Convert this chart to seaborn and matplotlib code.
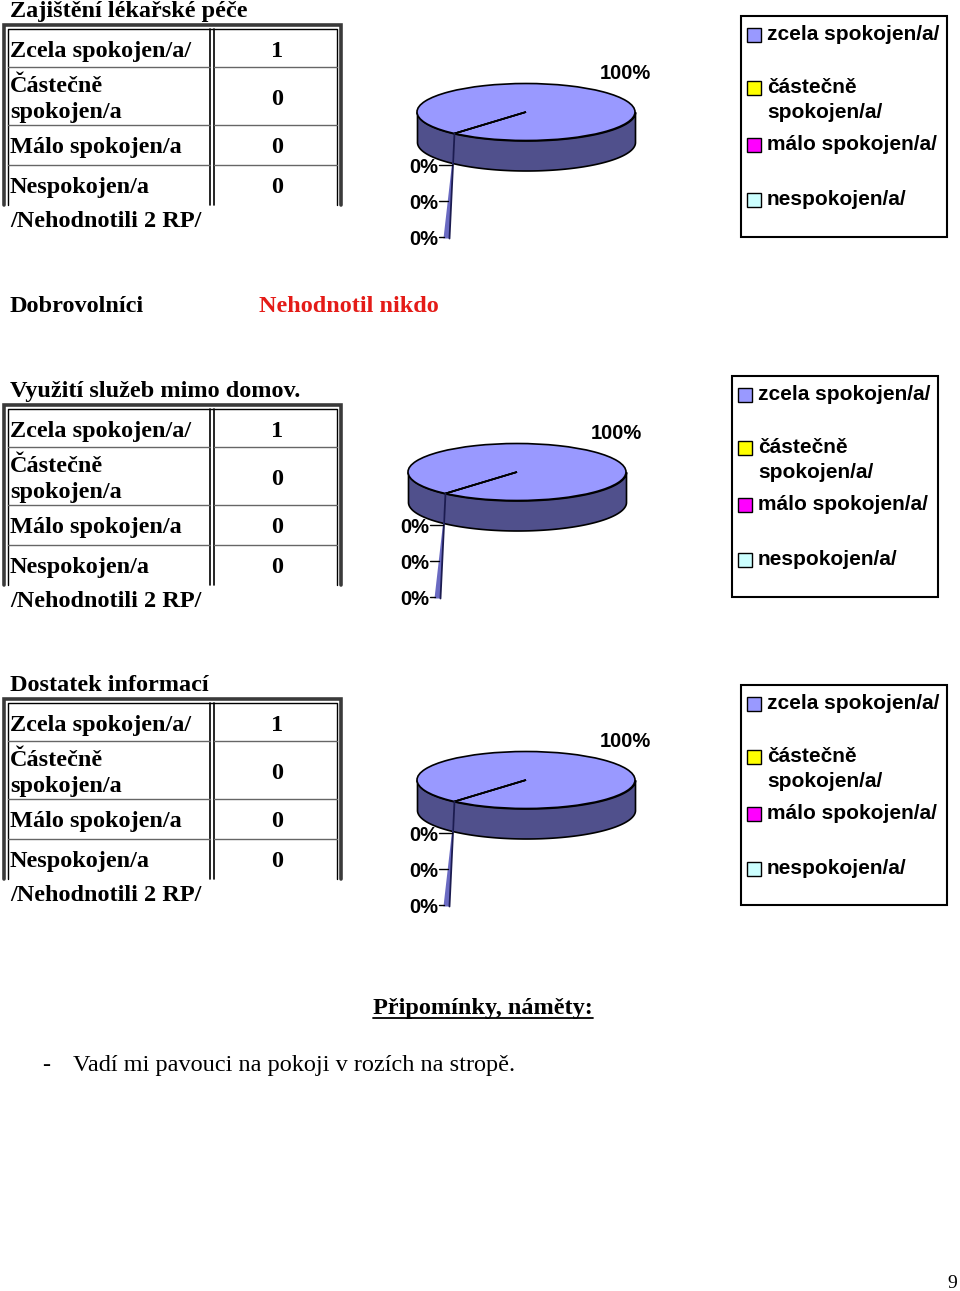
import numpy as np
import matplotlib.pyplot as plt
import seaborn as sns
from matplotlib.patches import Rectangle, Polygon


W, H = 960, 1291
SERIF = "Liberation Serif"
SANS = "Liberation Sans"

TOP_COLOR = "#9999FF"
SIDE_COLOR = "#50508C"
SLIVER_COLOR = "#6A6AC2"
RED = "#E41B17"

# data
section_titles = ["Zajištění lékařské péče", "Využití služeb mimo domov.", "Dostatek informací"]
row_labels = ["Zcela spokojen/a/", "Částečně\nspokojen/a", "Málo spokojen/a", "Nespokojen/a"]
legend_labels = ["zcela spokojen/a/", "částečně\nspokojen/a/", "málo spokojen/a/", "nespokojen/a/"]
legend_colors = [TOP_COLOR, "#FFFF00", "#FF00FF", "#CCFFFF"]
pece_counts = [1, 0, 0, 0]
sluzby_counts = [1, 0, 0, 0]
informace_counts = [1, 0, 0, 0]
not_rated_note = "/Nehodnotili 2 RP/"
volunteers_label = "Dobrovolníci"
volunteers_note = "Nehodnotil nikdo"
comments_title = "Připomínky, náměty:"
comments = ["Vadí mi pavouci na pokoji v rozích na stropě."]
page_number = "9"

# layout (pixels)
table_tops = [24, 404, 698]
pie_centers = [(526, 112), (517, 472), (526, 780)]
legend_boxes = [(741, 16, 947, 237), (732, 376, 938, 597), (741, 685, 947, 905)]

sns.set_theme(style="white")
plt.rcParams["font.family"] = [SERIF, "DejaVu Serif"]
plt.rcParams["text.color"] = "black"

fig = plt.figure(figsize=(W / 100, H / 100), dpi=100)
ax = fig.add_axes([0, 0, 1, 1])
ax.set_xlim(0, W)
ax.set_ylim(H, 0)
ax.axis("off")


def draw_table(top, counts, title):
    bottom = top + 181
    ax.text(10, top - 7, title, fontfamily=SERIF, fontweight="bold", fontsize=17.5, va="baseline")
    # double frame, the bottom edge is cut by the page
    ax.plot([4, 4, 341, 341], [bottom, top + 1, top + 1, bottom], color="#3a3a3a", lw=2.6,
            solid_joinstyle="miter")
    ax.plot([8, 8, 337, 337], [bottom, top + 5, top + 5, bottom], color="black", lw=1)
    ax.plot([210, 210], [top + 5, bottom], color="black", lw=1.2)
    ax.plot([214, 214], [top + 5, bottom], color="black", lw=1.2)
    for b in [43, 101, 141]:
        ax.plot([8, 210], [top + b, top + b], color="#666666", lw=1)
        ax.plot([214, 337], [top + b, top + b], color="#666666", lw=1)

    baselines = [33, 68, 129, 169]
    value_baselines = [33, 81, 129, 169]
    for label, value, b, vb in zip(row_labels, counts, baselines, value_baselines):
        for k, line in enumerate(label.split("\n")):
            ax.text(10, top + b + 26 * k, line, fontfamily=SERIF, fontweight="bold",
                    fontsize=17.5, va="baseline")
        ax.text(277, top + vb, str(value), fontfamily=SERIF, fontweight="bold",
                fontsize=17.5, ha="center", va="baseline")
    ax.text(10, top + 203, not_rated_note, fontfamily=SERIF, fontweight="bold",
            fontsize=17.5, va="baseline")


def draw_pie(counts, cx, cy, rx=109, ry=28.5, depth=30, start=229):
    left, right, top, bottom = cx - 135, cx + 135, cy - 60, cy + 145
    pax = fig.add_axes([left / W, 1 - bottom / H, (right - left) / W, (bottom - top) / H])

    def to_data(px, py):
        return (px - cx) / rx, (cy - py) / ry

    pax.pie(counts, colors=legend_colors, startangle=start, counterclock=True,
            wedgeprops=dict(edgecolor="black", linewidth=1.2))
    # cylinder side
    t = np.linspace(np.pi, 2 * np.pi, 200)
    xs, ys = np.cos(t), np.sin(t)
    pax.fill_between(xs, ys - depth / ry, ys, facecolor=SIDE_COLOR, edgecolor="black",
                     lw=1.2, zorder=0)

    # zero slices dropped below the rim
    rim_x = cx + rx * np.cos(np.radians(start))
    rim_y = cy - ry * np.sin(np.radians(start))
    sliver = [(rim_x, rim_y), (rim_x - 5, rim_y + 105), (rim_x - 11, rim_y + 105), (rim_x - 2, rim_y + 26)]
    pax.add_patch(Polygon([to_data(*p) for p in sliver], closed=True, fc=SLIVER_COLOR, ec="none", zorder=3))
    (x0, y0), (x1, y1) = to_data(*sliver[0]), to_data(*sliver[1])
    pax.plot([x0, x1], [y0, y1], color="#1c1c50", lw=1.3, zorder=4)

    total = sum(counts)
    zero_row = 0
    for v in counts:
        pct = f"{round(100 * v / total)}%"
        if v > 0:
            pax.text(*to_data(cx + 74, cy - 33), pct, fontfamily=SANS, fontweight="bold",
                     fontsize=14.5, va="baseline")
        else:
            by = cy + 61 + 36 * zero_row
            pax.text(*to_data(cx - 117, by), pct, fontfamily=SANS, fontweight="bold",
                     fontsize=14.5, va="baseline")
            ly = by - 8
            ex = rim_x - 2 - 9 * (ly - rim_y - 26) / 79
            (lx0, lyd), (lx1, _) = to_data(cx - 87, ly), to_data(ex, ly)
            pax.plot([lx0, lx1], [lyd, lyd], color="black", lw=1, zorder=5)
            zero_row += 1

    pax.set_aspect("auto")
    pax.set_xlim((left - cx) / rx, (right - cx) / rx)
    pax.set_ylim((cy - bottom) / ry, (cy - top) / ry)
    pax.axis("off")


def draw_legend(x0, y0, x1, y1):
    ax.add_patch(Rectangle((x0, y0), x1 - x0, y1 - y0, fill=False, ec="black", lw=1.5))
    baselines = [24, 77, 134, 189]
    for color, label, b in zip(legend_colors, legend_labels, baselines):
        ax.add_patch(Rectangle((x0 + 6, y0 + b - 12), 14, 14, fc=color, ec="black", lw=1))
        for k, line in enumerate(label.split("\n")):
            ax.text(x0 + 26, y0 + b + 25 * k, line, fontfamily=SANS, fontweight="bold",
                    fontsize=15, va="baseline")


all_counts = [pece_counts, sluzby_counts, informace_counts]
for title, counts, top, (cx, cy), box in zip(section_titles, all_counts, table_tops,
                                              pie_centers, legend_boxes):
    draw_table(top, counts, title)
    draw_pie(counts, cx, cy)
    draw_legend(*box)

# volunteers line
ax.text(10, 312, volunteers_label, fontfamily=SERIF, fontweight="bold", fontsize=17.5, va="baseline")
ax.text(259, 312, volunteers_note, fontfamily=SERIF, fontweight="bold", fontsize=17.5,
        color=RED, va="baseline")

# comments
head = ax.text(483, 1014, comments_title, fontfamily=SERIF, fontweight="bold", fontsize=17.5,
               ha="center", va="baseline")
for i, c in enumerate(comments):
    ax.text(42, 1071 + 30 * i, "-", fontfamily=SERIF, fontsize=17.5, va="baseline")
    ax.text(73, 1071 + 30 * i, c, fontfamily=SERIF, fontsize=17.5, va="baseline")
ax.text(952, 1288, page_number, fontfamily=SERIF, fontsize=14, ha="center", va="baseline")

# underline the comments heading
fig.canvas.draw()
bb = head.get_window_extent().transformed(ax.transData.inverted())
ax.plot([bb.x0, bb.x1], [1018, 1018], color="black", lw=1.3)

fig.savefig("out.png", dpi=100)
